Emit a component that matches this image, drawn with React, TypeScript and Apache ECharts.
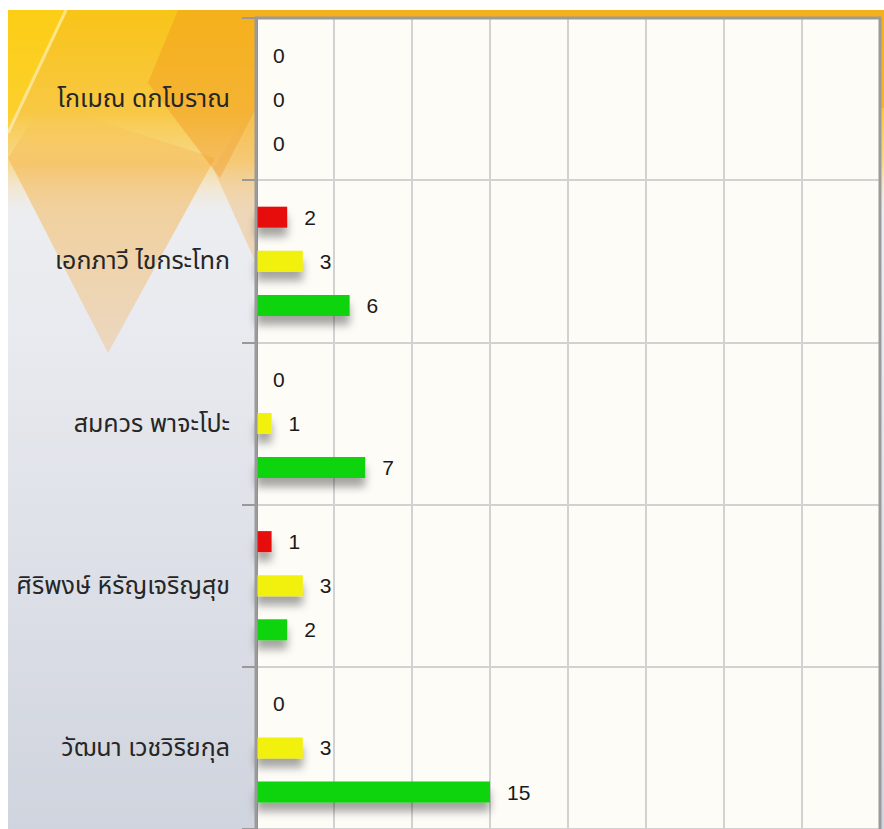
import React, { useEffect, useRef } from "react";
import * as echarts from "echarts";

const categories = [
  "โกเมณ ดกโบราณ",
  "เอกภาวี ไขกระโทก",
  "สมควร พาจะโปะ",
  "ศิริพงษ์ หิรัญเจริญสุข",
  "วัฒนา เวชวิริยกุล",
];
const redValues = [0, 2, 0, 1, 0];
const yellowValues = [0, 3, 1, 3, 3];
const greenValues = [0, 6, 7, 2, 15];
const seriesNames = ["แดง", "เหลือง", "เขียว"];
const seriesColors = ["#e80c0c", "#f2f00a", "#0ad40a"];

const FONT = 'Tahoma, "Noto Sans Thai", "DejaVu Sans", sans-serif';
const NUM_FONT = 'Tahoma, "Liberation Sans", Arial, sans-serif';

export default function App() {
  const ref = useRef<HTMLDivElement>(null);
  useEffect(() => {
    document.body.style.margin = "0";
    document.body.style.overflow = "hidden";
    if (!ref.current) return;
    const chart = echarts.init(ref.current, undefined, { renderer: "svg" });
    const W = 884;
    const H = 829;
    const X0 = 8;
    const Y0 = 10;
    const G = { left: 256, top: 18, right: 4, bottom: -4 };
    const dataSets = [redValues, yellowValues, greenValues];
    const series = dataSets.map((d, i) => ({
      name: seriesNames[i],
      type: "bar",
      data: d,
      barWidth: 21,
      barGap: "110%",
      itemStyle: {
        color: seriesColors[i],
        shadowColor: "rgba(0,0,0,0.35)",
        shadowBlur: 9,
        shadowOffsetY: 9,
        shadowOffsetX: 0,
      },
      label: {
        show: true,
        position: "right",
        distance: 17,
        color: "#1a1a1a",
        fontSize: 21,
        fontFamily: NUM_FONT,
      },
    }));
    const sh = (pts: number[][]) => pts.map(([x, y]) => [x + X0, y + Y0]);
    chart.setOption({
      animation: false,
      backgroundColor: "#ffffff",
      graphic: [
        {
          type: "rect",
          z: -10,
          silent: true,
          shape: { x: X0, y: Y0, width: W - X0, height: H - Y0 },
          style: {
            fill: new echarts.graphic.LinearGradient(0, 0, 0, 1, [
              { offset: 0, color: "#f3f2f2" },
              { offset: 0.4, color: "#e8eaef" },
              { offset: 1, color: "#d0d4de" },
            ]),
          },
        },
        {
          type: "polygon",
          z: -9,
          silent: true,
          shape: { points: sh([[0, 0], [W, 0], [W, 203], [0, 203]]) },
          style: {
            fill: new echarts.graphic.LinearGradient(0, 0, 0, 1, [
              { offset: 0, color: "#f8c418" },
              { offset: 0.5, color: "#f8c844" },
              { offset: 0.75, color: "rgba(249,212,120,0.85)" },
              { offset: 1, color: "rgba(245,230,210,0)" },
            ]),
          },
        },
        {
          type: "polygon",
          z: -8,
          silent: true,
          shape: { points: sh([[0, 148], [35, 93], [207, 148], [100, 343]]) },
          style: {
            fill: new echarts.graphic.LinearGradient(0, 0, 0, 1, [
              { offset: 0, color: "rgba(246,190,80,0.0)" },
              { offset: 0.25, color: "rgba(245,185,85,0.6)" },
              { offset: 1, color: "rgba(238,200,155,0.55)" },
            ]),
          },
        },
        {
          type: "polygon",
          z: -8,
          silent: true,
          shape: { points: sh([[140, 73], [170, 0], [W, 0], [W, 98], [248, 98], [212, 168]]) },
          style: { fill: "rgba(240,150,30,0.42)" },
        },
        {
          type: "polygon",
          z: -8,
          silent: true,
          shape: { points: sh([[205, 158], [248, 93], [248, 253]]) },
          style: { fill: "rgba(242,175,80,0.35)" },
        },
        {
          type: "polygon",
          z: -8,
          silent: true,
          shape: { points: sh([[0, 0], [60, 0], [0, 118]]) },
          style: { fill: "rgba(255,215,20,0.5)" },
        },
        {
          type: "line",
          z: -7,
          silent: true,
          shape: { x1: X0, y1: Y0 + 123, x2: X0 + 58, y2: Y0 },
          style: { stroke: "rgba(255,245,200,0.6)", lineWidth: 3 },
        },
        {
          type: "rect",
          z: 100,
          silent: true,
          shape: { x: G.left, y: G.top, width: W - G.left - G.right, height: H - G.top - G.bottom },
          style: { fill: "none", stroke: "#9a9a9a", lineWidth: 3 },
        },
      ],
      grid: {
        left: G.left,
        top: G.top,
        right: G.right,
        bottom: G.bottom,
        show: true,
        backgroundColor: "#fdfcf7",
        borderColor: "#9a9a9a",
        borderWidth: 2,
        containLabel: false,
      },
      xAxis: {
        type: "value",
        min: 0,
        max: 40,
        interval: 5,
        axisLabel: { show: false },
        axisLine: { show: false },
        axisTick: { show: false },
        splitLine: { show: true, lineStyle: { color: "#d2d2d2", width: 2 } },
      },
      yAxis: {
        type: "category",
        data: categories,
        inverse: true,
        axisLine: { show: true, lineStyle: { color: "#8c8c8c", width: 3 } },
        axisTick: { show: true, length: 14, lineStyle: { color: "#999", width: 2 } },
        axisLabel: {
          margin: 26,
          color: "#262626",
          fontSize: 25,
          fontFamily: FONT,
        },
        splitLine: { show: true, lineStyle: { color: "#d2d2d2", width: 2 } },
      },
      series,
    });
    return () => chart.dispose();
  }, []);
  return <div ref={ref} style={{ width: 884, height: 829 }} />;
}
